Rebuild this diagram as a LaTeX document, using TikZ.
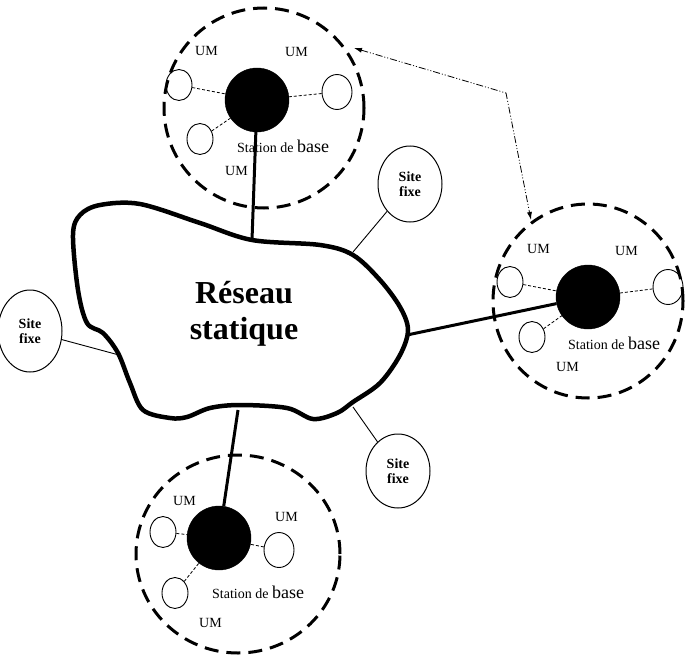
\documentclass[tikz,border=0pt]{standalone}
\usepackage{fontspec}
\setmainfont{Liberation Serif}
\usetikzlibrary{arrows.meta,shapes.geometric}
\newcommand{\stationtxt}{{\fontsize{14}{14}\selectfont Station de }{\fontsize{18}{18}\selectfont base}}

\begin{document}
\begin{tikzpicture}[x=1pt,y=-1pt,
  cell/.style={draw, ellipse, line width=3pt, dash pattern=on 14pt off 8pt, inner sep=0pt},
  bs/.style={circle, fill=black, draw=black, minimum size=64pt, inner sep=0pt},
  um/.style={draw, ellipse, line width=0.9pt, minimum width=26pt, minimum height=31pt, inner sep=0pt},
  umbig/.style={um, minimum width=30pt, minimum height=35pt},
  umlink/.style={line width=0.8pt, dash pattern=on 3pt off 2pt},
  trunk/.style={line width=3pt},
  site/.style={draw, ellipse, line width=1pt, minimum width=64pt, minimum height=76pt, inner sep=0pt, align=center, font=\fontsize{14}{15.5}\selectfont\bfseries},
  sitelink/.style={line width=0.9pt},
  lbl/.style={anchor=base west, inner sep=0pt, font=\fontsize{14}{14}\selectfont},
  sig/.style={line width=0.8pt, dash pattern=on 7pt off 2pt on 1pt off 2pt on 1pt off 2pt, {Latex[length=8pt,width=5pt]}-{Latex[length=8pt,width=5pt]}}]
  \useasboundingbox (0,0) rectangle (687,666);
  % static network
  \draw[line width=4.5pt, line join=round] plot[smooth cycle, tension=0.55] coordinates {(80,215) (100,205) (140,204) (200,223) (252,240) (320,245) (353,255) (380,280) (400,307) (408,330) (400,355) (380,383) (353,402) (337,413) (313,419) (287,408) (240,405) (210,408) (187,417) (170,418) (143,410) (130,383) (118,353) (103,333) (87,323) (78,290) (73,235)};
  \node[font=\fontsize{32}{36}\selectfont\bfseries, align=center] (net) at (244,314) {Réseau\\statique};
  \coordinate (cT) at (252,240); \coordinate (cR) at (407,335); \coordinate (cB) at (238,410);
  \coordinate (cS1) at (353,252); \coordinate (cS2) at (119,355); \coordinate (cS3) at (353,407);
  % cells
  \node[cell, minimum width=200pt, minimum height=200pt] (cellT) at (264,108) {};
  \node[cell, minimum width=190pt, minimum height=194pt] (cellR) at (588,301) {};
  \node[cell, minimum width=204pt, minimum height=198pt] (cellB) at (238,554) {};
  % base stations and mobiles
  \node[bs] (bsT) at (257,100) {}; \node[bs] (bsR) at (588,297) {}; \node[bs] (bsB) at (219,538) {};
  \node[um] (umT1) at (179,85) {}; \node[um] (umT2) at (200,139) {}; \node[umbig] (umT3) at (337,92) {};
  \node[um] (umR1) at (510,282) {}; \node[um] (umR2) at (532,337) {}; \node[umbig] (umR3) at (668,287) {};
  \node[um] (umB1) at (163,532) {}; \node[um] (umB2) at (175,593) {}; \node[umbig] (umB3) at (279,550) {};
  \foreach \c in {T,R,B} \foreach \i in {1,2,3} \draw[umlink] (um\c\i) -- (bs\c);
  \draw[trunk] (bsT) -- (cT); \draw[trunk] (bsR) -- (cR); \draw[trunk] (cB) -- (bsB);
  % labels
  \node[lbl] (lT1) at (195,56) {UM}; \node[lbl] (lT2) at (285,57) {UM}; \node[lbl] (lT3) at (225,175) {UM};
  \node[lbl] (lR1) at (527,253) {UM}; \node[lbl] (lR2) at (615,255) {UM}; \node[lbl] (lR3) at (556,371) {UM};
  \node[lbl] (lB1) at (173,505) {UM}; \node[lbl] (lB2) at (275,521) {UM}; \node[lbl] (lB3) at (199,627) {UM};
  \node[lbl] (sT) at (237,152) {\stationtxt}; \node[lbl] (sR) at (568,349) {\stationtxt}; \node[lbl] (sB) at (212,598) {\stationtxt};
  % fixed sites
  \node[site] (site1) at (410,184) {Site\\fixe}; \node[site, minimum height=82pt] (site2) at (30,331) {Site\\fixe}; \node[site, minimum height=74pt] (site3) at (398,471) {Site\\fixe};
  \draw[sitelink] (site1) -- (cS1); \draw[sitelink] (site2) -- (cS2); \draw[sitelink] (site3) -- (cS3);
  % signalling
  \coordinate (aS) at (354,48); \coordinate (aK) at (506,93); \coordinate (aE) at (531,220);
  \draw[sig] (aS) -- (aK) -- (aE);
\end{tikzpicture}
\end{document}
